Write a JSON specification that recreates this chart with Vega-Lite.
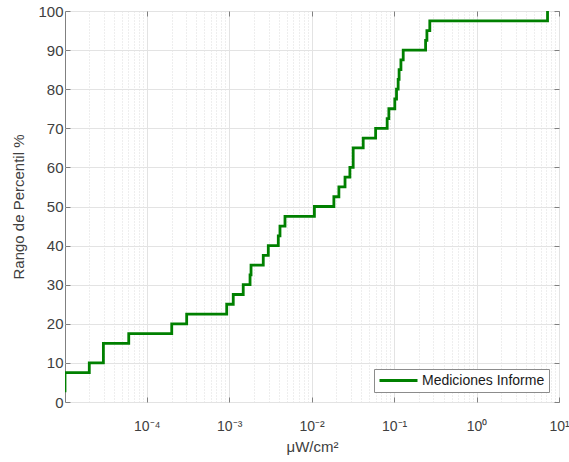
{
  "$schema": "https://vega.github.io/schema/vega-lite/v6.json",
  "width": 494,
  "height": 391,
  "autosize": "none",
  "padding": {"left": 65, "top": 11, "right": 10, "bottom": 60},
  "background": "white",
  "config": {
    "font": "Liberation Sans",
    "view": {"stroke": "#808080", "strokeWidth": 1},
    "axis": {"labelFont": "Liberation Sans", "titleFont": "Liberation Sans", "labelColor": "#404040", "titleColor": "#404040", "titleFontWeight": "normal", "domain": false}
  },
  "data": {"values": [
    {"uW": 1.02e-5, "pct": 2.5},
    {"uW": 1.02e-5, "pct": 5},
    {"uW": 1.02e-5, "pct": 7.5},
    {"uW": 2.01e-5, "pct": 10},
    {"uW": 2.98e-5, "pct": 12.5},
    {"uW": 2.98e-5, "pct": 15},
    {"uW": 6.05e-5, "pct": 17.5},
    {"uW": 2.01e-4, "pct": 20},
    {"uW": 3.05e-4, "pct": 22.5},
    {"uW": 9.33e-4, "pct": 25},
    {"uW": 1.12e-3, "pct": 27.5},
    {"uW": 1.48e-3, "pct": 30},
    {"uW": 1.79e-3, "pct": 32.5},
    {"uW": 1.84e-3, "pct": 35},
    {"uW": 2.59e-3, "pct": 37.5},
    {"uW": 2.98e-3, "pct": 40},
    {"uW": 3.94e-3, "pct": 42.5},
    {"uW": 4.13e-3, "pct": 45},
    {"uW": 4.75e-3, "pct": 47.5},
    {"uW": 1.08e-2, "pct": 50},
    {"uW": 1.86e-2, "pct": 52.5},
    {"uW": 2.14e-2, "pct": 55},
    {"uW": 2.54e-2, "pct": 57.5},
    {"uW": 2.91e-2, "pct": 60},
    {"uW": 3.19e-2, "pct": 62.5},
    {"uW": 3.19e-2, "pct": 65},
    {"uW": 4.22e-2, "pct": 67.5},
    {"uW": 5.97e-2, "pct": 70},
    {"uW": 8.24e-2, "pct": 72.5},
    {"uW": 8.64e-2, "pct": 75},
    {"uW": 0.102, "pct": 77.5},
    {"uW": 0.107, "pct": 80},
    {"uW": 0.112, "pct": 82.5},
    {"uW": 0.115, "pct": 85},
    {"uW": 0.121, "pct": 87.5},
    {"uW": 0.129, "pct": 90},
    {"uW": 0.241, "pct": 92.5},
    {"uW": 0.25, "pct": 95},
    {"uW": 0.271, "pct": 97.5},
    {"uW": 7.26, "pct": 100}
  ]},
  "layer": [
    {
      "mark": {"type": "line", "interpolate": "step-after", "strokeWidth": 2.8, "clip": true},
      "encoding": {
        "x": {
          "field": "uW", "type": "quantitative",
          "scale": {"type": "log", "domain": [1.02e-5, 10], "nice": false},
          "axis": {
            "orient": "bottom",
            "title": "μW/cm²",
            "titleFontSize": 15,
            "titlePadding": 1,
            "values": [2e-5,3e-5,4e-5,5e-5,6e-5,7e-5,8e-5,9e-5,1e-4,2e-4,3e-4,4e-4,5e-4,6e-4,7e-4,8e-4,9e-4,1e-3,2e-3,3e-3,4e-3,5e-3,6e-3,7e-3,8e-3,9e-3,1e-2,2e-2,3e-2,4e-2,5e-2,6e-2,7e-2,8e-2,9e-2,0.1,0.2,0.3,0.4,0.5,0.6,0.7,0.8,0.9,1,2,3,4,5,6,7,8,9,10],
            "labelExpr": "abs(log(datum.value)/LN10 - round(log(datum.value)/LN10)) > 0.01 ? '' : round(log(datum.value)/LN10) == -4 ? '10⁻⁴' : round(log(datum.value)/LN10) == -3 ? '10⁻³' : round(log(datum.value)/LN10) == -2 ? '10⁻²' : round(log(datum.value)/LN10) == -1 ? '10⁻¹' : round(log(datum.value)/LN10) == 0 ? '10⁰' : '10¹'",
            "labelFontSize": 14,
            "labelPadding": 22,
            "labelFlush": false,
            "labelOverlap": false,
            "grid": true,
            "gridColor": {"condition": {"test": "abs(log(datum.value)/LN10 - round(log(datum.value)/LN10)) > 0.01", "value": "#dcdcdc"}, "value": "#e3e3e3"},
            "gridDash": {"condition": {"test": "abs(log(datum.value)/LN10 - round(log(datum.value)/LN10)) > 0.01", "value": [1, 2]}, "value": []},
            "tickColor": "#808080",
            "tickSize": {"condition": {"test": "abs(log(datum.value)/LN10 - round(log(datum.value)/LN10)) > 0.01", "value": 0}, "value": -5}
          }
        },
        "y": {
          "field": "pct", "type": "quantitative",
          "scale": {"domain": [0, 100], "nice": false},
          "axis": {
            "orient": "left",
            "title": "Rango de Percentil %",
            "titleFontSize": 15,
            "titlePadding": 11,
            "values": [0,10,20,30,40,50,60,70,80,90,100],
            "labelFontSize": 15,
            "labelPadding": 7,
            "grid": true,
            "gridColor": "#e3e3e3",
            "tickColor": "#808080",
            "tickSize": -5
          }
        },
        "color": {
          "datum": "Mediciones Informe", "type": "nominal",
          "scale": {"range": ["#008000"]},
          "legend": {
            "title": null,
            "orient": "bottom-right",
            "offset": 10,
            "fillColor": "white",
            "strokeColor": "#8c8c8c",
            "padding": 4,
            "clipHeight": 15,
            "symbolType": "stroke",
            "symbolSize": 1444,
            "symbolStrokeWidth": 2.8,
            "labelFontSize": 14,
            "labelFont": "Liberation Sans",
            "labelColor": "#1a1a1a",
            "labelOffset": 3
          }
        }
      }
    },
    {
      "mark": {"type": "line", "opacity": 0},
      "encoding": {
        "x": {
          "field": "uW", "type": "quantitative",
          "axis": {"orient": "top", "title": null, "labels": false, "grid": false, "values": [1e-4, 1e-3, 1e-2, 0.1, 1, 10], "tickColor": "#808080", "tickSize": -5}
        },
        "y": {
          "field": "pct", "type": "quantitative",
          "axis": {"orient": "right", "title": null, "labels": false, "grid": false, "values": [0,10,20,30,40,50,60,70,80,90,100], "tickColor": "#808080", "tickSize": -5}
        }
      }
    }
  ],
  "resolve": {"axis": {"x": "independent", "y": "independent"}}
}
